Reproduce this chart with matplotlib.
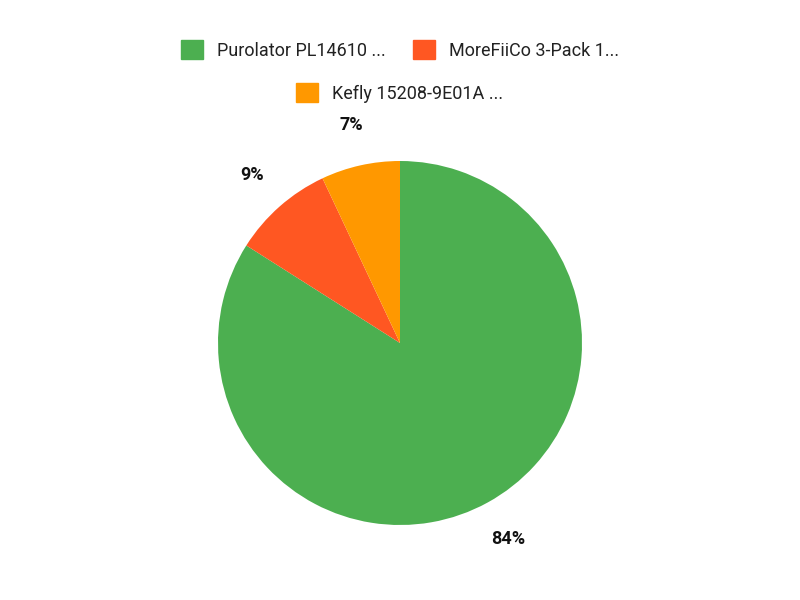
import matplotlib
matplotlib.use("Agg")
import matplotlib.pyplot as plt
from matplotlib.patches import Patch

plt.rcParams['font.family'] = ['Roboto', 'DejaVu Sans']

labels = ["Purolator PL14610 ...", "MoreFiiCo 3-Pack 1...", "Kefly 15208-9E01A ..."]
values = [84, 9, 7]
colors = ["#4caf50", "#ff5722", "#ff9800"]

fig = plt.figure(figsize=(8, 6), dpi=100)
ax = fig.add_axes([218/800, 75/600, 364/800, 364/600])
wedges, texts = ax.pie(values, colors=colors, startangle=90, counterclock=False,
                       labels=[f"{v}%" for v in values], labeldistance=1.23,
                       textprops=dict(fontsize=13, fontweight='bold', color='#111111'))
for t in texts:
    t.set_ha('center'); t.set_va('center')
ax.set_xlim(-1, 1); ax.set_ylim(-1, 1)
ax.set_aspect('equal')

h = [Patch(color=c) for c in colors]
kw = dict(frameon=False, fontsize=13, handlelength=1.2, handleheight=1.2,
          handletextpad=0.8, columnspacing=1.5, labelcolor='#222222')
fig.legend(h[:2], labels[:2], ncol=2, loc='center', bbox_to_anchor=(0.5, 1 - 50/600), **kw)
fig.legend(h[2:], labels[2:], ncol=1, loc='center', bbox_to_anchor=(0.5, 1 - 93/600), **kw)

fig.savefig("out.png", dpi=100)
